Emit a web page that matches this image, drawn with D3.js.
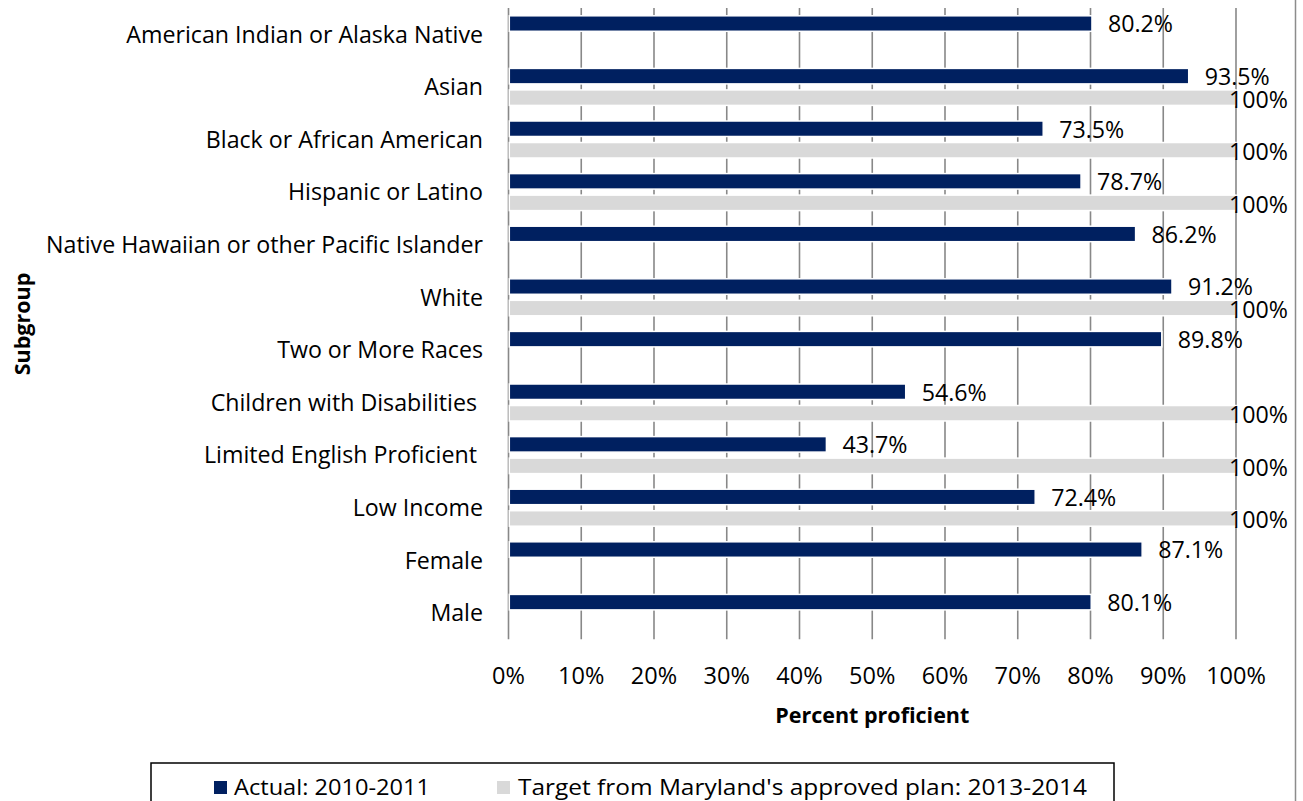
<!DOCTYPE html>
<html>
<head>
<meta charset="utf-8">
<script src="https://cdn.jsdelivr.net/npm/d3@7"></script>
<style>
  html, body { margin: 0; padding: 0; background: #fff; }
  svg { display: block; font-family: "Open Sans", Lato, sans-serif; }
  text { white-space: pre; }
</style>
</head>
<body>
<svg id="chart" width="1303" height="801"></svg>
<script>
// Subgroup proficiency: actual 2010-2011 vs. the 2013-2014 plan target
const categories = [
  "American Indian or Alaska Native",
  "Asian",
  "Black or African American",
  "Hispanic or Latino",
  "Native Hawaiian or other Pacific Islander",
  "White",
  "Two or More Races",
  "Children with Disabilities ",
  "Limited English Proficient ",
  "Low Income",
  "Female",
  "Male"
];
const actualValues = [80.2, 93.5, 73.5, 78.7, 86.2, 91.2, 89.8, 54.6, 43.7, 72.4, 87.1, 80.1];
const targetValues = [null, 100, 100, 100, null, 100, null, 100, 100, 100, null, null];
const tickValues = [0, 10, 20, 30, 40, 50, 60, 70, 80, 90, 100];
const seriesNames = ["Actual: 2010-2011", "Target from Maryland's approved plan: 2013-2014"];
const seriesColors = ["#002060", "#d9d9d9"];

const svg = d3.select("#chart");
const W = 1303, H = 801;
const catFont = 23.2, valueFont = 23.2, tickFont = 23.5, titleFont = 21.5;

const x = d3.scaleLinear().domain([0, 100]).range([508.5, 1236]);
const y = d3.scaleBand().domain(categories).range([8, 639.2]).padding(0);
const sub = d3.scaleBand().domain(["actual", "target"]).range([-18.5, 18.5]).paddingInner(0.28);

const rows = categories.map((c, i) => ({ cat: c, actual: actualValues[i], target: targetValues[i] }));

// outer chart border (only the right edge falls inside the frame)
svg.append("line")
  .attr("x1", 1295.5).attr("x2", 1295.5).attr("y1", 0).attr("y2", H)
  .attr("stroke", "#8c8c8c").attr("stroke-width", 1.5);

// vertical gridlines, including the 0% axis line
svg.append("g")
  .selectAll("line")
  .data(tickValues)
  .join("line")
  .attr("x1", d => x(d)).attr("x2", d => x(d))
  .attr("y1", y.range()[0]).attr("y2", y.range()[1])
  .attr("stroke", "#888888").attr("stroke-width", 1.6);

// bars
const barGroups = svg.append("g")
  .selectAll("g")
  .data(rows)
  .join("g")
  .attr("transform", d => `translate(0,${y(d.cat) + y.bandwidth() / 2})`);

const seriesKeys = ["actual", "target"];
seriesKeys.forEach((key, si) => {
  barGroups.filter(d => d[key] != null)
    .append("rect")
    .attr("x", x(0) + 0.8)
    .attr("y", sub(key))
    .attr("width", d => x(d[key]) - x(0) - 0.8)
    .attr("height", sub.bandwidth())
    .attr("fill", seriesColors[si])
    .attr("stroke", "#ffffff")
    .attr("stroke-width", 1.5);
});

// value labels, kept inside the plot frame
seriesKeys.forEach(key => {
  barGroups.filter(d => d[key] != null)
    .append("text")
    .attr("font-size", valueFont)
    .attr("fill", "#000")
    .attr("dy", "0.36em")
    .attr("y", sub(key) + sub.bandwidth() / 2 + (key === "actual" ? 0.5 : 1.5))
    .text(d => d[key] === 100 ? "100%" : d3.format(".1f")(d[key]) + "%")
    .each(function (d) {
      const w = this.getComputedTextLength();
      const start = Math.min(x(d[key]) + 16, 1288 - w);
      d3.select(this).attr("x", start);
    });
});

// category labels
svg.append("g")
  .selectAll("text")
  .data(categories)
  .join("text")
  .attr("x", 483)
  .attr("y", d => y(d) + y.bandwidth() / 2)
  .attr("dy", "0.36em")
  .attr("text-anchor", "end")
  .attr("font-size", catFont)
  .attr("fill", "#000")
  .text(d => d);

// x tick labels
svg.append("g")
  .selectAll("text")
  .data(tickValues)
  .join("text")
  .attr("x", d => x(d))
  .attr("y", 676)
  .attr("dy", "0.36em")
  .attr("text-anchor", "middle")
  .attr("font-size", tickFont)
  .attr("fill", "#000")
  .text(d => d + "%");

// axis titles
svg.append("text")
  .attr("x", (x(0) + x(100)) / 2)
  .attr("y", 715)
  .attr("dy", "0.36em")
  .attr("text-anchor", "middle")
  .attr("font-size", titleFont)
  .attr("font-weight", "bold")
  .attr("fill", "#000")
  .text("Percent proficient");

svg.append("text")
  .attr("transform", "translate(22,324) rotate(-90)")
  .attr("dy", "0.36em")
  .attr("text-anchor", "middle")
  .attr("font-size", titleFont)
  .attr("font-weight", "bold")
  .attr("fill", "#000")
  .text("Subgroup");

// legend
const legend = svg.append("g");
legend.append("rect")
  .attr("x", 151).attr("y", 763)
  .attr("width", 963).attr("height", 60)
  .attr("fill", "#fff").attr("stroke", "#000").attr("stroke-width", 1.5);

const legendItems = [
  { name: seriesNames[0], color: seriesColors[0], sx: 214, tx: 234, tw: 196 },
  { name: seriesNames[1], color: seriesColors[1], sx: 497, tx: 518, tw: 569 }
];
const li = legend.selectAll("g.item").data(legendItems).join("g").attr("class", "item");
li.append("rect")
  .attr("x", d => d.sx).attr("y", 781)
  .attr("width", 13).attr("height", 13)
  .attr("fill", d => d.color);
li.append("text")
  .attr("x", d => d.tx).attr("y", 787.5)
  .attr("dy", "0.36em")
  .attr("font-size", 22)
  .attr("fill", "#000")
  .attr("textLength", d => d.tw)
  .attr("lengthAdjust", "spacingAndGlyphs")
  .text(d => d.name);
</script>
</body>
</html>
